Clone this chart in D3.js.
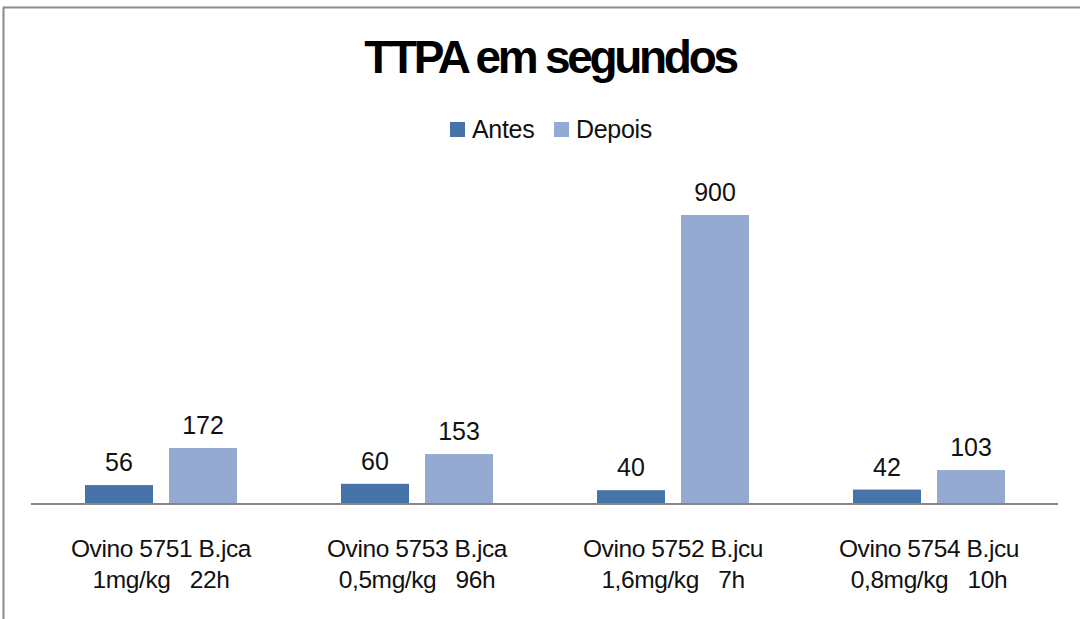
<!DOCTYPE html>
<html>
<head>
<meta charset="utf-8">
<script src="https://cdn.jsdelivr.net/npm/d3@7"></script>
<style>
  html, body { margin: 0; padding: 0; background: #fff; }
  svg { display: block; font-family: "Liberation Sans", Arial, sans-serif; }
</style>
</head>
<body>
<div id="chart"></div>
<script>
// chart data
const categories = ["Ovino 5751 B.jca", "Ovino 5753 B.jca", "Ovino 5752 B.jcu", "Ovino 5754 B.jcu"];
const subLabels = ["1mg/kg   22h", "0,5mg/kg   96h", "1,6mg/kg   7h", "0,8mg/kg   10h"];
const seriesNames = ["Antes", "Depois"];
const antes = [56, 60, 40, 42];
const depois = [172, 153, 900, 103];

const colors = { Antes: "#4673a8", Depois: "#94aad1" };

const width = 1080, height = 619;
const svg = d3.select("#chart").append("svg")
  .attr("width", width)
  .attr("height", height);

svg.append("rect").attr("width", width).attr("height", height).attr("fill", "#fff");

// outer frame
svg.append("rect")
  .attr("x", 3.5).attr("y", 7.5)
  .attr("width", width + 10).attr("height", height + 10)
  .attr("fill", "none")
  .attr("stroke", "#8a8a8a")
  .attr("stroke-width", 2);

// title
svg.append("text")
  .attr("x", 550).attr("y", 73)
  .attr("text-anchor", "middle")
  .attr("font-size", 46)
  .attr("font-weight", "bold")
  .attr("letter-spacing", -3.3)
  .text("TTPA em segundos");

// legend
const legend = svg.append("g");
const legendPos = [450, 554];
seriesNames.forEach((s, i) => {
  legend.append("rect")
    .attr("x", legendPos[i]).attr("y", 122)
    .attr("width", 15).attr("height", 15)
    .attr("fill", colors[s]);
  legend.append("text")
    .attr("x", legendPos[i] + 22).attr("y", 138)
    .attr("font-size", 25)
    .attr("letter-spacing", -0.3)
    .attr("fill", "#111")
    .text(s);
});

// scales
const x0 = d3.scaleBand().domain(categories).range([33, 1057]);
const x1 = d3.scaleBand().domain(seriesNames).range([-76, 76]).paddingInner(0.1905);
const y = d3.scaleLinear().domain([0, 1000]).range([503, 183]);

const rows = categories.map((c, i) => ({ cat: c, sub: subLabels[i], Antes: antes[i], Depois: depois[i] }));

const groups = svg.selectAll("g.grp").data(rows).join("g")
  .attr("class", "grp")
  .attr("transform", d => `translate(${x0(d.cat) + x0.bandwidth() / 2},0)`);

groups.selectAll("rect").data(d => seriesNames.map(s => ({ s, v: d[s] }))).join("rect")
  .attr("x", d => x1(d.s))
  .attr("y", d => y(d.v))
  .attr("width", x1.bandwidth())
  .attr("height", d => y(0) - y(d.v))
  .attr("fill", d => colors[d.s]);

groups.selectAll("text.val").data(d => seriesNames.map(s => ({ s, v: d[s] }))).join("text")
  .attr("class", "val")
  .attr("x", d => x1(d.s) + x1.bandwidth() / 2)
  .attr("y", d => y(d.v) - 14)
  .attr("text-anchor", "middle")
  .attr("font-size", 25)
  .attr("fill", "#111")
  .text(d => d.v);

// baseline
svg.append("line")
  .attr("x1", 31).attr("x2", 1058)
  .attr("y1", y(0) + 1).attr("y2", y(0) + 1)
  .attr("stroke", "#868686")
  .attr("stroke-width", 2);

// category labels
groups.append("text")
  .attr("y", 557)
  .attr("text-anchor", "middle")
  .attr("font-size", 24.5)
  .attr("letter-spacing", -0.4)
  .attr("fill", "#111")
  .text(d => d.cat);

groups.append("text")
  .attr("y", 588)
  .attr("text-anchor", "middle")
  .attr("font-size", 24.5)
  .attr("letter-spacing", -0.4)
  .attr("fill", "#111")
  .style("white-space", "pre")
  .text(d => d.sub);
</script>
</body>
</html>
